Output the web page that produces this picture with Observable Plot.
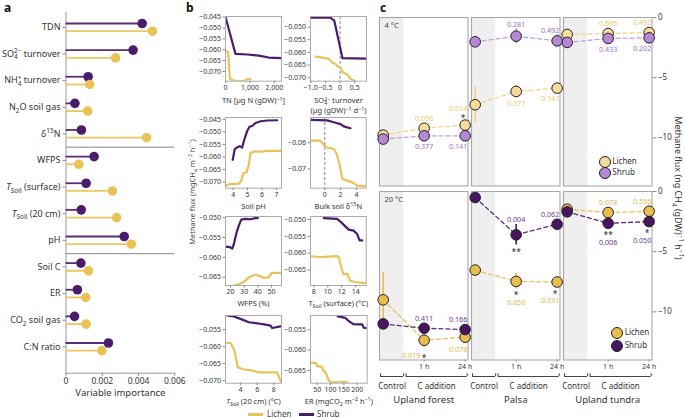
<!DOCTYPE html>
<html><head><meta charset="utf-8">
<script src="https://cdn.jsdelivr.net/npm/d3@7"></script>
<script src="https://cdn.jsdelivr.net/npm/@observablehq/plot@0.6"></script>
<style>
html,body{margin:0;padding:0;background:#fff;}
#root{position:relative;width:685px;height:418px;overflow:hidden;background:#fff;font-family:"Noto Sans",sans-serif;color:#333;}
#root svg{overflow:visible;display:block;}
.lab{position:absolute;white-space:nowrap;line-height:1;}
.lab sub,.lab sup{font-size:70%;line-height:0;}
.dotk{position:absolute;width:10px;height:10px;border-radius:50%;border:1px solid #222;}
</style></head><body><div id="root"></div>
<script>
const FONT = '"Noto Sans", sans-serif';
const LICHEN = "#e9c258", SHRUB = "#4b1c6c";

// ---------- Panel a: variable importance ----------
const aVars = ["TDN","SO_{4}^{2−} turnover","NH_{4}^{+} turnover","N_{2}O soil gas","δ^{15}N","WFPS",
  "~{T}_{Soil} (surface)","~{T}_{Soil} (20 cm)","pH","Soil C","ER","CO_{2} soil gas","C:N ratio"];
const aShrub  = [0.0042,0.0037,0.00122,0.00049,0.00085,0.00155,0.00111,0.00084,0.00321,0.00082,0.00063,0.00047,0.00234];
const aLichen = [0.00477,0.00273,0.00131,0.0012,0.00444,0.00071,0.00256,0.00279,0.0036,0.00124,0.00109,0.00111,0.00198];
const aTicks = [0,0.002,0.004,0.006];
const aBreaks = [4.5,8.5];

// ---------- Panel b: partial dependence curves [x, y] ----------
const tnShrub = [[0,-0.0449],[408,-0.0619],[900,-0.0622],[1360,-0.0627],[1770,-0.0636],[2290,-0.0639]];
const tnLichen = [[0,-0.0604],[110,-0.0612],[175,-0.0734],[340,-0.0742],[750,-0.0745],[860,-0.0737],[1020,-0.0734]];
const so4Shrub = [[-1.01,-0.0463],[-0.32,-0.0463],[-0.2,-0.0474],[0.08,-0.0623],[0.9,-0.0625]];
const so4Lichen = [[-0.83,-0.0617],[-0.55,-0.0622],[-0.38,-0.0626],[-0.27,-0.064],[-0.15,-0.0646],[-0.1,-0.0656],[0,-0.0659],[0.08,-0.0678],[0.25,-0.0688],[0.36,-0.0705],[0.5,-0.0712]];
const phShrub = [[3.97,-0.0611],[4.11,-0.0569],[4.32,-0.056],[4.46,-0.0557],[4.62,-0.0563],[4.74,-0.0537],[4.97,-0.0497],[5.13,-0.048],[5.32,-0.0477],[5.55,-0.0465],[5.9,-0.0458],[6.36,-0.0455],[7.05,-0.0454]];
const phLichen = [[3.47,-0.0715],[3.7,-0.0708],[4.39,-0.0706],[4.56,-0.0695],[4.7,-0.0665],[4.93,-0.0661],[5.09,-0.063],[5.2,-0.0584],[5.43,-0.0578],[6.0,-0.0579],[6.36,-0.0576],[7.35,-0.0576]];
const d15Shrub = [[-1.8,-0.0513],[0.3,-0.0515],[1.14,-0.0522],[1.99,-0.0529],[2.4,-0.0538],[3.25,-0.0545]];
const d15Lichen = [[-1.8,-0.0592],[-0.54,-0.0592],[-0.12,-0.0609],[0.3,-0.0618],[1.14,-0.0624],[1.48,-0.0641],[1.9,-0.0686],[2.2,-0.0737],[2.83,-0.0745],[3.46,-0.075],[4.1,-0.0763],[5.24,-0.0765]];
const wfpsShrub = [[16.4,-0.0573],[19.5,-0.0574],[21.3,-0.0578],[22.5,-0.0567],[24.2,-0.0541],[26.1,-0.052],[27.9,-0.0505],[31,-0.0503],[34.7,-0.0504],[38.3,-0.0501],[40,-0.0501]];
const wfpsLichen = [[22.5,-0.0671],[25,-0.0669],[28.6,-0.0664],[31,-0.0659],[33.4,-0.065],[38.3,-0.0644],[42,-0.0648],[44.5,-0.0652],[48.1,-0.065],[50.1,-0.0639],[57.3,-0.0639]];
const tsShrub = [[9.43,-0.0496],[11.33,-0.0498],[11.8,-0.0506],[12.4,-0.0518],[13,-0.053],[13.7,-0.0533],[14.2,-0.0543],[14.55,-0.0562],[14.95,-0.0562]];
const tsLichen = [[7.52,-0.0609],[8.95,-0.0612],[11.33,-0.0609],[11.6,-0.0612],[11.8,-0.0632],[12.2,-0.0662],[12.8,-0.0662],[13.2,-0.0682],[14.2,-0.0687],[15.5,-0.0689]];
const t20Shrub = [[2.4,-0.0508],[3.2,-0.0511],[4,-0.0518],[5,-0.0528],[6,-0.0531],[7,-0.0535],[7.6,-0.0538],[7.8,-0.0545],[8.8,-0.054]];
const t20Lichen = [[2.2,-0.0589],[2.8,-0.0589],[3.2,-0.0607],[3.4,-0.0627],[3.68,-0.0661],[4.2,-0.0666],[5.4,-0.0671],[6.2,-0.0676],[7.2,-0.0676],[8.4,-0.0676],[8.8,-0.0701],[8.92,-0.0705]];
const erShrub = [[127,-0.0517],[156,-0.0521],[169,-0.0529],[185,-0.0536],[206,-0.0537],[219,-0.0537],[225,-0.0545],[237,-0.0546]];
const erLichen = [[29,-0.0631],[44,-0.0631],[50,-0.0639],[69,-0.0641],[72,-0.065],[81,-0.0654],[94,-0.0675],[106,-0.0679],[162,-0.0678]];

// ---------- Panel c: incubation methane flux ----------
const cTimes = ["Control","1 h","24 h"];
const cSites = ["Upland forest","Palsa","Upland tundra"];
const cTemps = ["4 °C","20 °C"];
const lichen4 = [[-9.77,-9.2,-8.94],[-7.25,-6.14,-5.87],[-1.41,-1.33,-1.25]];
const shrub4  = [[-10.1,-9.83,-9.83],[-2.02,-1.55,-1.94],[-2.07,-1.74,-1.69]];
const lichen20 = [[-9.0,-12.36,-12.1],[-6.53,-7.47,-7.52],[-1.47,-1.75,-1.64]];
const shrub20  = [[-11.0,-11.36,-11.47],[-0.5,-3.6,-2.72],[-1.69,-2.64,-2.5]];
const lichen4Err = [[0.2,0.25,0.25],[1.5,0.55,0.35],[0.3,0.2,0.2]];
const shrub4Err  = [[0.2,0.2,0.2],[0.3,0.62,0.5],[0.3,0.3,0.3]];
const lichen20Err = [[2.3,0.62,0.55],[0.3,0.65,0.35],[0.3,0.3,0.2]];
const shrub20Err  = [[0.3,0.3,0.3],[0.3,0.85,0.4],[0.3,0.35,0.3]];
const lichen4P = [["0.096","0.014"],["0.377","0.141"],["0.695","0.492"]];
const shrub4P  = [["0.377","0.141"],["0.281","0.492"],["0.433","0.202"]];
const lichen20P = [["0.019","0.078"],["0.050","0.031"],["0.078","0.556"]];
const shrub20P  = [["0.411","0.166"],["0.004","0.062"],["0.006","0.050"]];
const lichen4Stars = [["","*"],["",""],["",""]];
const shrub4Stars  = [["",""],["",""],["",""]];
const lichen20Stars = [["*",""],["*","*"],["",""]];
const shrub20Stars  = [["",""],["**",""],["**","*"]];
const starOpposite = [{temp:1, site:1, series:"Shrub", t:1}];
const labelBeside  = [{temp:1, site:0, series:"Lichen", t:1}];

// ---------- helpers ----------
const root = document.getElementById("root");
const SVGNS = "http://www.w3.org/2000/svg";
function richify(node){
  node.querySelectorAll("text, tspan").forEach(el => {
    if (el.children.length) return;
    const s = el.textContent;
    if (!/[_^~]\{/.test(s)) return;
    const fs = parseFloat(getComputedStyle(el).fontSize) || 10;
    el.textContent = "";
    let shift = 0, prevSub = null;
    for (const p of s.split(/([_^~]\{[^}]*\})/)) {
      if (!p) continue;
      const t = document.createElementNS(SVGNS, "tspan");
      let target = 0, kind = "n";
      if (/^[_^~]\{/.test(p)) {
        t.textContent = p.slice(2, -1);
        if (p[0] === "_") { kind="sub"; target = fs*0.28; t.setAttribute("font-size", fs*0.72); }
        else if (p[0] === "^") { kind="sup"; target = -fs*0.38; t.setAttribute("font-size", fs*0.72); }
        else t.setAttribute("font-style", "italic");
      } else t.textContent = p;
      if (target !== shift) { t.setAttribute("dy", (target - shift).toFixed(2)); shift = target; }
      if (kind === "sup" && prevSub) {
        let w = 0; try { w = prevSub.getComputedTextLength(); } catch(e) {}
        if (w) t.setAttribute("dx", (-w).toFixed(2));
      }
      el.appendChild(t);
      prevSub = kind === "sub" ? t : null;
    }
  });
}
function place(node, left, top){
  const d = document.createElement("div");
  d.style.cssText = `position:absolute;left:${left}px;top:${top}px;`;
  d.appendChild(node); root.appendChild(d); richify(node); return d;
}
function html(text, css, cls="lab"){
  const d = document.createElement("div"); d.className = cls; d.style.cssText = css; d.innerHTML = text; root.appendChild(d); return d;
}
const baseStyle = (fs) => ({fontFamily: FONT, fontSize: fs, color:"#333", background:"transparent", maxWidth:"none", overflow:"visible"});

// ---------- Panel a ----------
{
  const yDom = [-0.558, 12.99];
  const off = 0.145;
  const shrubRows = aVars.map((n,i)=>({i, v:aShrub[i]}));
  const lichenRows = aVars.map((n,i)=>({i, v:aLichen[i]}));
  const p = Plot.plot({
    width:190, height:405, marginLeft:65.5, marginRight:15.7, marginTop:12, marginBottom:32.3,
    style: baseStyle("9px"),
    x:{domain:[0,0.006]}, y:{domain:yDom, range:[12,372.7]},
    marks:[
      Plot.ruleY(aBreaks,{x1:0,x2:0.006,stroke:"#888"}),
      Plot.ruleY([yDom[1]],{x1:0,x2:0.006,stroke:"#999"}),
      Plot.ruleX([0],{y1:yDom[0],y2:yDom[1],stroke:"#999"}),
      Plot.ruleY(shrubRows,{y:d=>d.i-off,x1:0,x2:"v",stroke:"#5a2c7c",strokeWidth:1.8}),
      Plot.ruleY(lichenRows,{y:d=>d.i+off,x1:0,x2:"v",stroke:"#ecc760",strokeWidth:1.8}),
      Plot.dot(shrubRows,{x:"v",y:d=>d.i-off,r:4.8,fill:SHRUB}),
      Plot.dot(lichenRows,{x:"v",y:d=>d.i+off,r:4.8,fill:LICHEN}),
      Plot.axisY(d3.range(aVars.length),{tickFormat:i=>aVars[i],tickSize:3,tickPadding:2.5,label:null,stroke:"#888",fontSize:9}),
      Plot.axisX(aTicks,{tickFormat:d=>d===0?"0":d.toFixed(3),tickSize:3,tickPadding:2,label:null,stroke:"#888",fontSize:8.5}),
      Plot.text(["Variable importance"],{text:d=>d,frameAnchor:"bottom",dy:22.5,fontSize:9.5})
    ]
  });
  place(p,0,0);
}

// ---------- Panel b ----------
const yf3 = d3.format(".3f"), yf2 = d3.format(".2f");
const bPanels = [
  {frame:[225,16,281,80.7], xd:[0,2290], yd:[-0.0745,-0.0447], xt:[0,1000,2000], xf:d3.format(","), yt:[-0.045,-0.05,-0.055,-0.06,-0.065,-0.07], yf:yf3, label:"TN [µg N (gDW)^{−1}]", lichen:tnLichen, shrub:tnShrub},
  {frame:[309.7,16,365.7,80.7], xd:[-1.01,0.9], yd:[-0.0714,-0.0458], xt:[-1,-0.5,0,0.5], xf:d=>d===0?"0":d3.format(".1f")(d), yt:[-0.05,-0.055,-0.06,-0.065,-0.07], yf:yf3, label:"SO_{4}^{2−} turnover\n(µg (gDW)^{−1} d^{−1})", lichen:so4Lichen, shrub:so4Shrub, zero:true},
  {frame:[225,117.3,281,188], xd:[3.47,7.35], yd:[-0.0724,-0.0443], xt:[4,5,6,7], xf:d3.format("d"), yt:[-0.045,-0.05,-0.055,-0.06,-0.065,-0.07], yf:yf3, label:"Soil pH", lichen:phLichen, shrub:phShrub},
  {frame:[310,117.3,365.7,188], xd:[-1.81,5.24], yd:[-0.0773,-0.0504], xt:[0,2,4], xf:d3.format("d"), yt:[-0.06,-0.07], yf:yf2, label:"Bulk soil δ^{15}N", lichen:d15Lichen, shrub:d15Shrub, zero:true},
  {frame:[225,216,281,285], xd:[16.4,57.3], yd:[-0.0671,-0.0497], xt:[20,30,40,50], xf:d3.format("d"), yt:[-0.05,-0.055,-0.06,-0.065], yf:yf3, label:"WFPS (%)", lichen:wfpsLichen, shrub:wfpsShrub},
  {frame:[310,216,365.7,285], xd:[7.52,15.5], yd:[-0.0696,-0.0491], xt:[8,10,12,14], xf:d3.format("d"), yt:[-0.05,-0.055,-0.06,-0.065], yf:yf3, label:"T_{Soil} (surface) (°C)", lichen:tsLichen, shrub:tsShrub},
  {frame:[225,315,281,382.7], xd:[2.2,8.92], yd:[-0.0708,-0.0508], xt:[4,6,8], xf:d3.format("d"), yt:[-0.055,-0.06,-0.065,-0.07], yf:yf3, label:"~{T}_{Soil} (20 cm) (°C)", lichen:t20Lichen, shrub:t20Shrub},
  {frame:[310,315,366.7,382.7], xd:[25,237.5], yd:[-0.0681,-0.0515], xt:[50,100,150,200], xf:d3.format("d"), yt:[-0.055,-0.06,-0.065], yf:yf3, label:"ER (mgCO_{2} m^{−2} h^{−1})", lichen:erLichen, shrub:erShrub}
];
bPanels.forEach((s, idx) => {
  const [l,t,r,b] = s.frame;
  const ml=36, mr=4, mt=4, mb=36;
  const p = Plot.plot({
    width:r-l+ml+mr, height:b-t+mt+mb, marginLeft:ml, marginRight:mr, marginTop:mt, marginBottom:mb,
    style: baseStyle("7px"),
    x:{domain:s.xd}, y:{domain:s.yd},
    marks:[
      s.zero ? Plot.ruleX([0],{stroke:"#888",strokeDasharray:"3,2"}) : null,
      Plot.line(s.lichen,{stroke:LICHEN,strokeWidth:2.2,clip:true}),
      Plot.line(s.shrub,{stroke:SHRUB,strokeWidth:2.2,clip:true}),
      Plot.frame({stroke:"#aaa"}),
      Plot.axisY(s.yt,{tickFormat:s.yf,tickSize:2.5,tickPadding:2,fontSize:7,label:null,stroke:"#888"}),
      Plot.axisX(s.xt,{tickFormat:s.xf,tickSize:2.5,tickPadding:1.5,fontSize:7,label:null,stroke:"#888"}),
      Plot.text([s.label],{text:d=>d,frameAnchor:"bottom",lineAnchor:"top",dy:idx<2?15:13.5,fontSize:7.5,lineHeight:1.35})
    ]
  });
  place(p, l-ml, t-mt);
});
html("Methane flux (mgCH<sub>4</sub> m<sup>−2</sup> h<sup>−1</sup>)","left:193px;top:192px;transform:translate(-50%,-50%) rotate(-90deg);font-size:7.5px;color:#444;");
// legend b
html("","left:248px;top:413px;width:15px;height:2.5px;background:"+LICHEN+";");
html("Lichen","left:267px;top:409.5px;font-size:8px;color:#444;");
html("","left:299px;top:413px;width:15px;height:2.5px;background:"+SHRUB+";");
html("Shrub","left:317px;top:409.5px;font-size:8px;color:#444;");

// ---------- Panel c ----------
const cX = [-0.09,2.07], cY = [-14,0];
const cShade = [{x1:-0.09,x2:0.5}];
const cGroups = [{label:"Control",x1:-0.065,x2:0.5},{label:"C addition",x1:0.56,x2:2.05}];
const cColLeft = [379,471,562.7], cRowTop = [16.7,190.7], cFW = 88.5, cFH = 168.5;
const cPal = [
  {lf:"#f7db9b", sf:"#b687d5", ll:"#f3d48e", sl:"#c59de0", le:"#f1d07f", se:"#b98bd8", lt:"#ebc96c", st:"#a06fc8"},
  {lf:"#e9be4d", sf:"#4a1560", ll:"#e7c35e", sl:"#5c2b7b", le:"#e6bf4f", se:"#4a1560", lt:"#e0b648", st:"#6b3b8e"}
];
const cSeries = [
  [{name:"Lichen",v:lichen4,e:lichen4Err,p:lichen4P,s:lichen4Stars},{name:"Shrub",v:shrub4,e:shrub4Err,p:shrub4P,s:shrub4Stars}],
  [{name:"Lichen",v:lichen20,e:lichen20Err,p:lichen20P,s:lichen20Stars},{name:"Shrub",v:shrub20,e:shrub20Err,p:shrub20P,s:shrub20Stars}]
];
function cPlot(r,c){
  const ml=1, mr=c===2?34:1, mt=1, mb=r===1?18:1;
  const pal = cPal[r], ser = cSeries[r];
  const pts = ser.map(S=>[0,1,2].map(t=>({t, v:S.v[c][t], e:S.e[c][t]})));
  const marks = [
    Plot.rect(cShade,{x1:"x1",x2:"x2",fill:"#efefef"}),
    Plot.frame({stroke:"#a8a8a8",strokeWidth:1.1}),
    Plot.line(pts[0],{x:"t",y:"v",stroke:pal.ll,strokeWidth:1.3,strokeDasharray:"4,3"}),
    Plot.line(pts[1],{x:"t",y:"v",stroke:pal.sl,strokeWidth:1.3,strokeDasharray:"4,3"}),
    Plot.ruleX(pts[0],{x:"t",y1:d=>d.v-d.e,y2:d=>d.v+d.e,stroke:pal.le,strokeWidth:1.6}),
    Plot.ruleX(pts[1],{x:"t",y1:d=>d.v-d.e,y2:d=>d.v+d.e,stroke:pal.se,strokeWidth:1.6}),
    Plot.dot(pts[0],{x:"t",y:"v",r:5.3,fill:pal.lf,stroke:"#222",strokeWidth:1}),
    Plot.dot(pts[1],{x:"t",y:"v",r:5.3,fill:pal.sf,stroke:"#222",strokeWidth:1})
  ];
  ser.forEach((S,k)=>{
    const other = ser[1-k];
    [1,2].forEach(t=>{
      const v = S.v[c][t], e = S.e[c][t];
      const above = v >= other.v[c][t];
      const base = Math.max(e*12,5.5)+4.5;
      const star = S.s[c][t-1];
      const match = o => o.temp===r && o.site===c && o.series===S.name && o.t===t;
      const opp = starOpposite.some(match), beside = labelBeside.some(match);
      let ldy, sdy = 0, ldx = t===2 ? -7 : 0, sdx = t===2 ? -2 : 0;
      if (beside) { ldy = base+3; ldx = -13; sdy = base+6; }
      else if (!star) { ldy = above ? -base : base+1; }
      else if (opp) { ldy = above ? -base : base+1; sdy = above ? base+3 : -base+2; }
      else if (above) { sdy = -base+3; ldy = -base-6.5; }
      else { sdy = base+2; ldy = base+9; }
      const d = [{t, v}];
      marks.push(Plot.text(d,{x:"t",y:"v",text:()=>S.p[c][t-1],dx:ldx,dy:ldy,fill:k===0?pal.lt:pal.st,fontSize:7.2}));
      if (star) marks.push(Plot.text(d,{x:"t",y:"v",text:()=>star,dx:sdx,dy:sdy,fill:"#222",fontSize:8.5}));
    });
  });
  if (c===0) marks.push(Plot.text([cTemps[r]],{text:d=>d,frameAnchor:"top-left",lineAnchor:"middle",dx:5,dy:8.5,fontSize:7.5,fill:"#444"}));
  if (c===2) marks.push(Plot.axisY([0,-5,-10],{anchor:"right",tickSize:4,tickPadding:2,fontSize:8,label:null,stroke:"#888"}));
  if (r===1) marks.push(Plot.axisX([1,2],{tickFormat:t=>cTimes[t],tickSize:2,tickPadding:2,fontSize:7,label:null,stroke:"#888"}));
  const p = Plot.plot({
    width:cFW+ml+mr, height:cFH+mt+mb, marginLeft:ml, marginRight:mr, marginTop:mt, marginBottom:mb,
    style: baseStyle("7.5px"),
    x:{domain:cX, ...(r===1?{}:{axis:null})},
    y:{domain:cY, ...(c===2?{}:{axis:null})},
    marks
  });
  place(p, cColLeft[c]-ml, cRowTop[r]-mt);
}
for (let r=0;r<2;r++) for (let c=2;c>=0;c--) cPlot(r,c);
for (let c=0;c<3;c++){
  const ml=1, mr=c===2?34:1;
  const p = Plot.plot({
    width:cFW+ml+mr, height:40, marginLeft:ml, marginRight:mr, marginTop:0, marginBottom:0,
    style: baseStyle("8px"),
    x:{domain:cX, axis:null}, y:{domain:[0,1], range:[6,3.2], axis:null},
    marks:[
      Plot.ruleY(cGroups,{x1:"x1",x2:"x2",y:0,stroke:"#444"}),
      Plot.ruleX(cGroups.flatMap(g=>[g.x1,g.x2]),{x:d=>d,y1:0,y2:1,stroke:"#444"}),
      Plot.text(cGroups,{x:d=>(d.x1+d.x2)/2,y:0,text:"label",dy:9.7,fontSize:8,fill:"#333"}),
      Plot.text([cSites[c]],{text:d=>d,frameAnchor:"top",lineAnchor:"middle",dy:29.3,fontSize:9.5,fill:"#333"})
    ]
  });
  place(p, cColLeft[c]-ml, 370);
}
html("Methane flux (ng CH<sub>4</sub> (gDW)<sup>−1</sup> h<sup>−1</sup>)","left:678px;top:188px;transform:translate(-50%,-50%) rotate(90deg);font-size:9px;color:#333;");
// legends c
const cLeg = [{x:604.3,y1:161.7,y2:172.7},{x:616.7,y1:332.3,y2:345}];
cLeg.forEach((g,r)=>{
  html("",`left:${g.x-5.5}px;top:${g.y1-5.5}px;background:${cPal[r].lf};`,"dotk");
  html("Lichen",`left:${g.x+8}px;top:${g.y1-4.5}px;font-size:8px;color:#333;`);
  html("",`left:${g.x-5.5}px;top:${g.y2-5.5}px;background:${cPal[r].sf};`,"dotk");
  html("Shrub",`left:${g.x+8}px;top:${g.y2-4.5}px;font-size:8px;color:#333;`);
});
// panel letters
html("a","left:4px;top:2px;font-size:12px;font-weight:bold;color:#111;");
html("b","left:186px;top:2px;font-size:12px;font-weight:bold;color:#111;");
html("c","left:380px;top:2px;font-size:12px;font-weight:bold;color:#111;");
</script></body></html>
